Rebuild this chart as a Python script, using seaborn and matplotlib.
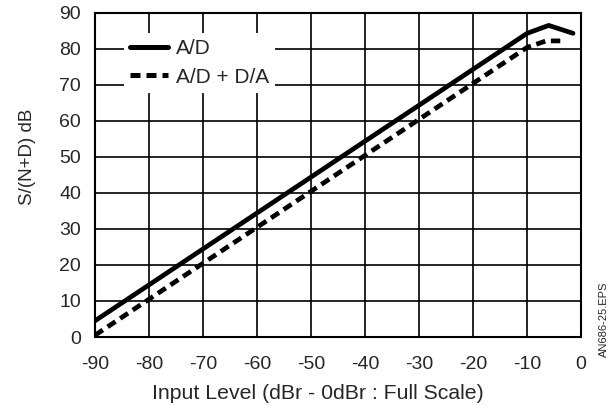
import matplotlib
matplotlib.use("Agg")
import matplotlib.pyplot as plt
import seaborn as sns
import pandas as pd
from matplotlib.lines import Line2D

x_ad = [-90, -10, -6, -1.5]
y_ad = [4.5, 84.3, 86.5, 84.3]
x_adda = [-90, -10, -6.5, -3]
y_adda = [0.5, 80.4, 82.2, 82.2]
x_ticks = [-90, -80, -70, -60, -50, -40, -30, -20, -10, 0]
y_ticks = [0, 10, 20, 30, 40, 50, 60, 70, 80, 90]

sns.set_style("white")
plt.rcParams['font.family'] = ['Liberation Sans', 'DejaVu Sans']
plt.rcParams['axes.unicode_minus'] = False

df = pd.concat([
    pd.DataFrame({"x": x_ad, "y": y_ad, "s": "A/D"}),
    pd.DataFrame({"x": x_adda, "y": y_adda, "s": "A/D + D/A"}),
])

fig = plt.figure(figsize=(6.13, 4.13), dpi=100)
ax = fig.add_axes([0.155, 0.184, 0.793, 0.785])
sns.lineplot(data=df, x="x", y="y", hue="s", style="s",
             palette=["black", "black"], dashes=[(None, None), (2, 1.2)],
             linewidth=3.4, sort=False, ax=ax, legend=False)
ax.set_xlim(-90, 0)
ax.set_ylim(0, 90)
ax.set_xticks(x_ticks)
ax.set_yticks(y_ticks)
ax.grid(True, color="black", linewidth=1.2)
ax.tick_params(axis="y", length=0, labelsize=14, pad=10)
ax.tick_params(axis="x", length=0, labelsize=14, pad=14)
for s in ax.spines.values():
    s.set_color("black")
    s.set_linewidth(1.5)
ax.set_xlabel("Input Level (dBr - 0dBr : Full Scale)", fontsize=15.3)
ax.set_ylabel("S/(N+D) dB", fontsize=13.5)
ax.xaxis.set_label_coords(0.459, -0.145)
ax.yaxis.set_label_coords(-0.122, 0.555)

h = [Line2D([], [], color="black", lw=3.6),
     Line2D([], [], color="black", lw=3.6, ls=(0, (2, 1.2)))]
leg = ax.legend(h, ["A/D", "A/D + D/A"], loc="upper left",
                bbox_to_anchor=(0.038, 0.97), fontsize=15, frameon=True,
                framealpha=1, edgecolor="white", fancybox=False,
                handlelength=1.8, handletextpad=0.4, borderpad=0.3,
                labelspacing=0.45)
leg.get_frame().set_linewidth(0)

fig.text(0.985, 0.136, "AN686-25.EPS", rotation=90, fontsize=8,
         ha="center", va="bottom")
fig.savefig("out.png", dpi=100)
